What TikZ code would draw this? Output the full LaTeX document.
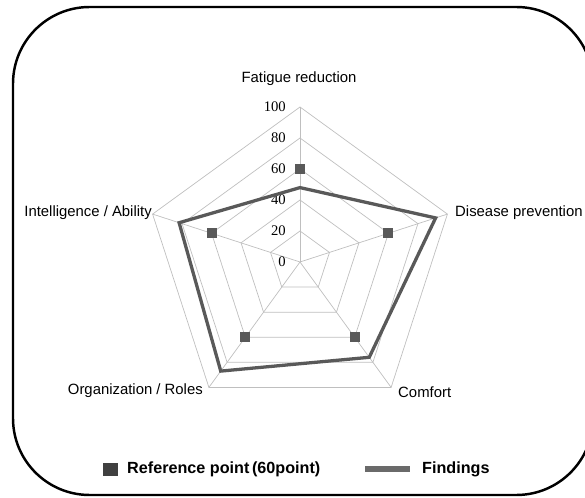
\documentclass[tikz,border=0pt]{standalone}
\usepackage{fontspec}
\setmainfont{Liberation Sans}
\newfontfamily\tickfont{Liberation Serif}
\usepackage{xcolor}
\usetikzlibrary{positioning}

\definecolor{gridgray}{HTML}{BFBFBF}
\definecolor{datagray}{HTML}{595959}
\definecolor{keygray}{HTML}{404040}

\tikzset{
  axislabel/.style={inner sep=0pt, font=\fontsize{12.7}{15}\selectfont},
  ticklabel/.style={inner sep=0pt, anchor=east, font=\tickfont\fontsize{12.5}{14}\selectfont},
  refmark/.style={fill=datagray, minimum size=10*0.03cm, inner sep=0pt},
  keytext/.style={inner sep=0pt, anchor=west, font=\bfseries\fontsize{13.8}{16}\selectfont}
}

\begin{document}
\begin{tikzpicture}[x=0.03cm, y=0.03cm]
\useasboundingbox (0,0) rectangle (585,497);
% frame
\draw[line width=2.1pt, rounded corners=2.3cm] (13,2) rectangle (593,490);

\begin{scope}[shift={(300,235)}]
% grid
\foreach \lvl in {20,40,...,100}
  \draw[gridgray, line width=0.6pt] (90:1.55*\lvl) -- (18:1.55*\lvl) -- (-54:1.55*\lvl)
    -- (-126:1.55*\lvl) -- (162:1.55*\lvl) -- cycle;
\coordinate (O) at (0,0);
\foreach \ang/\nm in {90/fat, 18/dis, -54/com, -126/org, 162/int}
  \draw[gridgray, line width=0.6pt] (O) -- (\ang:155) coordinate (\nm);
% tick labels
\foreach \lvl in {0,20,...,100}
  \node[ticklabel] (t\lvl) at (-14,1.55*\lvl) {\lvl};
% findings
\coordinate (f1) at (90:1.55*48);
\coordinate (f2) at (18:1.55*92);
\coordinate (f3) at (-54:1.55*76);
\coordinate (f4) at (-126:1.55*87);
\coordinate (f5) at (162:1.55*82);
\draw[datagray, line width=2.8pt, line join=miter] (f1) -- (f2) -- (f3) -- (f4) -- (f5) -- cycle;
% reference points
\foreach \ang/\nm in {90/r1, 18/r2, -54/r3, -126/r4, 162/r5}
  \node[refmark] (\nm) at (\ang:1.55*60) {};
\end{scope}

% axis labels
\node[axislabel] (lfat) at (299,418) {Fatigue reduction};
\node[axislabel, anchor=west] (ldis) at (455,284) {Disease prevention};
\node[axislabel, anchor=west] (lcom) at (398,105) {Comfort};
\node[axislabel, anchor=east] (lorg) at (203,106) {Organization / Roles};
\node[axislabel, anchor=east] (lint) at (152,284) {Intelligence / Ability};

% legend
\node[fill=keygray, minimum width=15*0.03cm, minimum height=13*0.03cm, inner sep=0pt] (keysq) at (110.5,27.5) {};
\node[keytext] (keyref) at (127,27.5) {Reference point\,(60point)};
\coordinate (kl) at (365,28);
\coordinate (kr) at (410,28);
\draw[color=datagray!90, line width=5pt] (kl) -- (kr);
\node[keytext] (keyfind) at (422,27.5) {Findings};
\end{tikzpicture}
\end{document}
